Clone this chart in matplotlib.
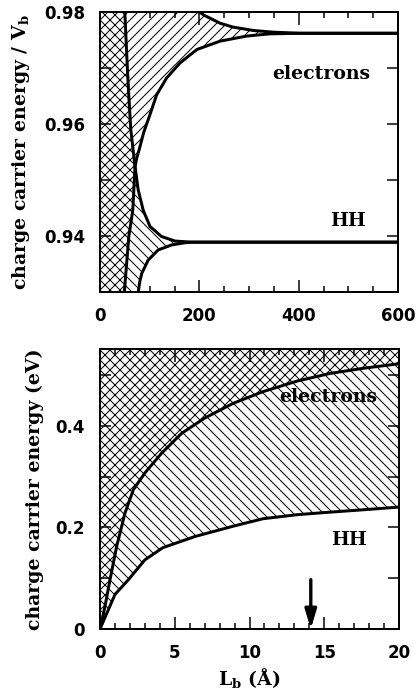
import numpy as np
import matplotlib
matplotlib.use("Agg")
import matplotlib.pyplot as plt
from matplotlib.ticker import MultipleLocator, FixedLocator, FixedFormatter

plt.rcParams['hatch.linewidth'] = 0.6
plt.rcParams['mathtext.fontset'] = 'dejavuserif'

# ---------------- top panel data (energy / V_b vs L_b) ----------------
edge_x = [50, 54, 58, 62, 66.5, 70.5, 66, 58, 49]
edge_y = [0.98, 0.972, 0.965, 0.959, 0.9555, 0.9524, 0.9446, 0.9399, 0.93]

el_low_x = [70.5, 74, 80, 88, 100.7, 114, 134, 161, 195, 242, 295, 342, 403, 600]
el_low_y = [0.9524, 0.9539, 0.9558, 0.9585, 0.9617, 0.9652, 0.9682, 0.9709,
            0.9733, 0.9748, 0.9757, 0.9761, 0.9762, 0.9762]

el_up_x = [200, 210, 221.5, 241.6, 268, 308.7, 349, 403, 600]
el_up_y = [0.98, 0.9794, 0.9789, 0.978, 0.9773, 0.9767, 0.9764, 0.9762, 0.9762]

hh_up_x = [70.5, 77, 87, 100.7, 124, 151, 185, 600]
hh_up_y = [0.9524, 0.9482, 0.9446, 0.9417, 0.9399, 0.9391, 0.9389, 0.9389]

hh_low_x = [77, 80, 84, 97, 117, 144, 171, 185, 600]
hh_low_y = [0.93, 0.9318, 0.9333, 0.9357, 0.9375, 0.9384, 0.9388, 0.9389, 0.9389]

# ---------------- bottom panel data (energy in eV vs L_b in Angstrom) ----------------
b_el_x = [0, 0.33, 0.67, 1.11, 1.67, 2.23, 3.0, 4.12, 5.46, 7.0, 8.9, 10.9, 13.2, 15.4, 17.6, 20]
b_el_y = [0, 0.044, 0.097, 0.162, 0.228, 0.274, 0.307, 0.346, 0.385, 0.415, 0.444,
          0.467, 0.488, 0.503, 0.513, 0.522]

b_hh_x = [0, 0.56, 1.0, 1.9, 3.0, 4.2, 6.35, 9.0, 10.9, 13.2, 15.4, 17.6, 20]
b_hh_y = [0, 0.038, 0.068, 0.097, 0.136, 0.16, 0.182, 0.203, 0.217, 0.225, 0.230, 0.2346, 0.240]

arrow_x = 14.1
arrow_y = [0.097, 0.0]

top_xticks = [0, 200, 400, 600]
top_yticks = [0.94, 0.96, 0.98]
top_yticklabels = ['0.94', '0.96', '0.98']
bot_xticks = [0, 5, 10, 15, 20]
bot_yticks = [0, 0.2, 0.4]
bot_yticklabels = ['0', '0.2', '0.4']

DPI = 120
fig = plt.figure(figsize=(417 / DPI, 694 / DPI), dpi=DPI)
W, H = 417.0, 694.0
ax1 = fig.add_axes([100 / W, (H - 292) / H, 298 / W, 280 / H])
ax2 = fig.add_axes([100 / W, (H - 629) / H, 299 / W, 280 / H])

LW = 1.8
XH = 'xxxx'
FH = '////'
BH = '\\\\\\\\'
tickfont = dict(family='DejaVu Sans', weight='bold', size=10)
labfont = dict(family='DejaVu Serif', weight='bold', size=11.3)
txtfont = dict(family='DejaVu Serif', weight='bold', size=11.3)

# ---- top panel ----
ax1.set_xlim(0, 600)
ax1.set_ylim(0.93, 0.98)
ax1.fill_betweenx(edge_y, 0, edge_x, facecolor='none', edgecolor='k', hatch=XH, linewidth=0)
k = edge_y.index(0.9524)
poly_x = list(edge_x[:k + 1]) + el_low_x[1:-1] + el_up_x[-2::-1]
poly_y = list(edge_y[:k + 1]) + el_low_y[1:-1] + el_up_y[-2::-1]
ax1.fill(poly_x, poly_y, facecolor='none', edgecolor='k', hatch=FH, linewidth=0)
poly_x = list(edge_x[k:]) + hh_low_x[:-1] + hh_up_x[-2::-1]
poly_y = list(edge_y[k:]) + hh_low_y[:-1] + hh_up_y[-2::-1]
ax1.fill(poly_x, poly_y, facecolor='none', edgecolor='k', hatch=BH, linewidth=0)

for xs, ys in [(edge_x, edge_y), (el_low_x, el_low_y), (el_up_x, el_up_y),
               (hh_up_x, hh_up_y), (hh_low_x, hh_low_y)]:
    ax1.plot(xs, ys, color='k', lw=LW, solid_capstyle='butt')

ax1.text(446, 0.969, 'electrons', ha='center', va='center', **txtfont)
ax1.text(500, 0.9426, 'HH', ha='center', va='center', **txtfont)

ax1.xaxis.set_major_locator(FixedLocator(top_xticks))
ax1.xaxis.set_minor_locator(MultipleLocator(50))
ax1.yaxis.set_major_locator(FixedLocator(top_yticks))
ax1.yaxis.set_major_formatter(FixedFormatter(top_yticklabels))
ax1.yaxis.set_minor_locator(MultipleLocator(0.01))
ax1.set_ylabel(r'charge carrier energy / V$_\mathbf{b}$', **labfont)
ax1.yaxis.set_label_coords((21 - 100) / 298, 0.5)
ax1.yaxis.label.set_verticalalignment('center')

# ---- bottom panel ----
ax2.set_xlim(0, 20)
ax2.set_ylim(0, 0.551)
ax2.fill_between(b_el_x, b_el_y, 0.551, facecolor='none', edgecolor='k', hatch=XH, linewidth=0)
ax2.fill_between(b_el_x, np.interp(b_el_x, b_hh_x, b_hh_y), b_el_y,
                 facecolor='none', edgecolor='k', hatch=BH, linewidth=0)
ax2.plot(b_el_x, b_el_y, color='k', lw=LW)
ax2.plot(b_hh_x, b_hh_y, color='k', lw=LW)
ax2.annotate('', xy=(arrow_x, arrow_y[1]), xytext=(arrow_x, arrow_y[0]),
             arrowprops=dict(arrowstyle='-|>,head_length=0.4,head_width=0.12',
                             mutation_scale=24, lw=2.0, color='k',
                             shrinkA=0, shrinkB=0))
ax2.text(15.25, 0.457, 'electrons', ha='center', va='center', **txtfont)
ax2.text(16.65, 0.176, 'HH', ha='center', va='center', **txtfont)

ax2.xaxis.set_major_locator(FixedLocator(bot_xticks))
ax2.xaxis.set_minor_locator(MultipleLocator(1))
ax2.yaxis.set_major_locator(FixedLocator(bot_yticks))
ax2.yaxis.set_major_formatter(FixedFormatter(bot_yticklabels))
ax2.yaxis.set_minor_locator(MultipleLocator(0.1))
ax2.set_ylabel('charge carrier energy (eV)', **labfont)
ax2.yaxis.set_label_coords((35 - 100) / 299, 0.5)
ax2.yaxis.label.set_verticalalignment('center')
ax2.set_xlabel(r'L$_\mathbf{b}$ (Å)', **labfont)
ax2.xaxis.set_label_coords(0.5, -(678 - 629) / 280)
ax2.xaxis.label.set_verticalalignment('center')

for ax in (ax1, ax2):
    for s in ax.spines.values():
        s.set_linewidth(1.2)
    ax.tick_params(which='both', direction='in', top=True, right=True, width=0.9, pad=9)
    ax.tick_params(axis='x', which='major', length=7.5)
    ax.tick_params(axis='x', which='minor', length=3.6)
    ax.tick_params(axis='y', which='both', length=6.5)
    for lab in ax.get_xticklabels() + ax.get_yticklabels():
        lab.set_fontproperties(matplotlib.font_manager.FontProperties(**tickfont))

fig.savefig('out.png', dpi=DPI)
